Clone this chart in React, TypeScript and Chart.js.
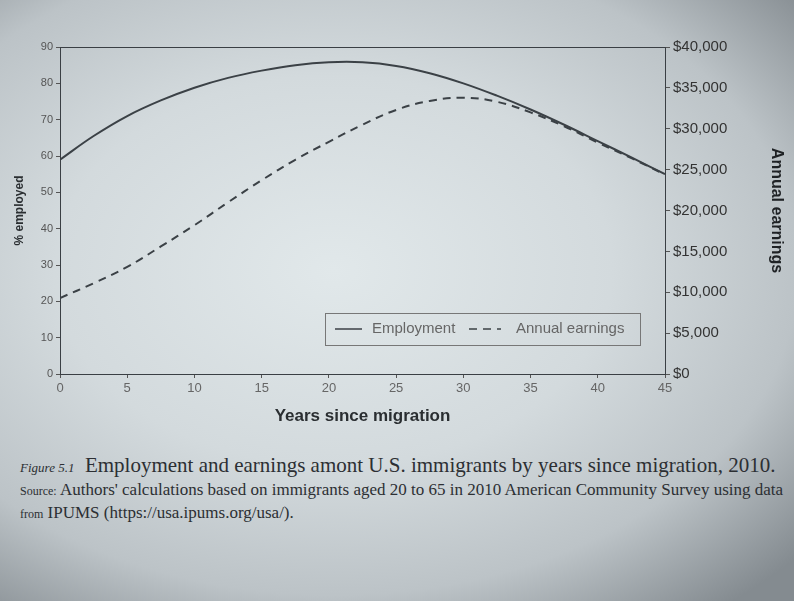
import React, { useEffect, useRef } from "react";
import { Chart, registerables } from "chart.js";

Chart.register(...registerables);

const years = [0, 2.5, 5, 7.5, 10, 12.5, 15, 17.5, 20, 22.5, 25, 27.5, 30, 32.5, 35, 37.5, 40, 42.5, 45];
const employment = [59, 65.5, 71, 75.3, 78.8, 81.5, 83.5, 85, 85.8, 85.8, 84.8, 82.8, 80, 76.6, 72.8, 68.6, 64.1, 59.6, 55];
const earnings = [9300, 11100, 13100, 15600, 18200, 21000, 23700, 26200, 28400, 30500, 32300, 33400, 33800, 33300, 32000, 30300, 28300, 26400, 24400];
const xTicks = [0, 5, 10, 15, 20, 25, 30, 35, 40, 45];
const leftTicks = [0, 10, 20, 30, 40, 50, 60, 70, 80, 90];
const rightTicks = [0, 5000, 10000, 15000, 20000, 25000, 30000, 35000, 40000];

const LINE = "#3b4146";
const SANS = "'Liberation Sans', Arial, sans-serif";

const boxLegend = {
  id: "boxLegend",
  afterDraw(chart: any) {
    const { ctx, chartArea } = chart;
    const { left, right, top, bottom } = chartArea;
    ctx.save();
    ctx.strokeStyle = "#3a3f44";
    ctx.lineWidth = 1;
    ctx.strokeRect(left + 0.5, top + 0.5, right - left, bottom - top);
    const bx = right - 340, by = bottom - 61, bw = 315, bh = 32;
    ctx.strokeStyle = "#777";
    ctx.lineWidth = 1;
    ctx.strokeRect(bx + 0.5, by + 0.5, bw, bh);
    const ds = chart.data.datasets;
    ctx.font = "15px " + SANS;
    ctx.fillStyle = "#666";
    ctx.textBaseline = "middle";
    const cy = by + bh / 2;
    ctx.strokeStyle = LINE;
    ctx.lineWidth = 1.5;
    ctx.setLineDash([]);
    ctx.beginPath();
    ctx.moveTo(bx + 10, cy);
    ctx.lineTo(bx + 37, cy);
    ctx.stroke();
    ctx.fillText(ds[0].label, bx + 47, cy);
    ctx.setLineDash([8, 6]);
    ctx.beginPath();
    ctx.moveTo(bx + 144, cy);
    ctx.lineTo(bx + 176, cy);
    ctx.stroke();
    ctx.setLineDash([]);
    ctx.fillText(ds[1].label, bx + 191, cy);
    ctx.restore();
  },
};

export default function App() {
  const ref = useRef<HTMLCanvasElement>(null);
  useEffect(() => {
    const chart = new Chart(ref.current!, {
      type: "line",
      data: {
        labels: years,
        datasets: [
          {
            label: "Employment",
            data: years.map((x, i) => ({ x, y: employment[i] })),
            borderColor: LINE,
            borderWidth: 2,
            pointRadius: 0,
            tension: 0.4,
            yAxisID: "y",
          },
          {
            label: "Annual earnings",
            data: years.map((x, i) => ({ x, y: earnings[i] })),
            borderColor: LINE,
            borderWidth: 2,
            borderDash: [8, 6],
            pointRadius: 0,
            tension: 0.4,
            yAxisID: "y1",
          },
        ],
      },
      options: {
        animation: false,
        responsive: false,
        layout: { padding: { top: 47, left: 8, right: 6, bottom: 9 } },
        plugins: { legend: { display: false }, tooltip: { enabled: false } },
        scales: {
          x: {
            type: "linear",
            min: 0,
            max: 45,
            afterBuildTicks: (s: any) => { s.ticks = xTicks.map((v) => ({ value: v })); },
            afterFit: (s: any) => { s.height = 57; },
            grid: { drawOnChartArea: false, tickLength: 4, color: "#555" },
            border: { color: "#3a3f44" },
            ticks: { color: "#666", font: { size: 13, family: SANS }, padding: 3 },
            title: { display: true, text: "Years since migration", color: "#2a2e31", font: { size: 17, weight: "bold", family: SANS }, padding: { top: 4 } },
          },
          y: {
            position: "left",
            min: 0,
            max: 90,
            afterBuildTicks: (s: any) => { s.ticks = leftTicks.map((v) => ({ value: v })); },
            afterFit: (s: any) => { s.width = 52; },
            grid: { drawOnChartArea: false, tickLength: 4, color: "#555" },
            border: { color: "#3a3f44" },
            ticks: { color: "#555", font: { size: 11, family: SANS }, padding: 3 },
            title: { display: true, text: "% employed", color: "#2a2e31", font: { size: 12, weight: "bold", family: SANS }, padding: 4 },
          },
          y1: {
            position: "right",
            min: 0,
            max: 40000,
            afterBuildTicks: (s: any) => { s.ticks = rightTicks.map((v) => ({ value: v })); },
            afterFit: (s: any) => { s.width = 123; },
            grid: { drawOnChartArea: false, tickLength: 5, color: "#555" },
            border: { color: "#3a3f44" },
            ticks: {
              color: "#333",
              font: { size: 15, family: SANS },
              padding: 3,
              callback: (v: any) => "$" + Number(v).toLocaleString("en-US"),
            },
            title: { display: true, text: "Annual earnings", color: "#1f2225", font: { size: 16, weight: "bold", family: SANS }, padding: 2 },
          },
        },
      },
      plugins: [boxLegend],
    } as any);
    return () => chart.destroy();
  }, []);

  return (
    <div
      style={{
        position: "absolute",
        left: 0,
        top: 0,
        width: 794,
        height: 601,
        overflow: "hidden",
        background:
          "radial-gradient(ellipse 78% 72% at 42% 45%, #e1e8ea 0%, #d3dadd 45%, #bcc3c7 75%, #848b90 100%)",
      }}
    >
      <canvas ref={ref} width={794} height={440} style={{ position: "absolute", left: 0, top: 0 }} />
      <div
        style={{
          position: "absolute",
          left: 20,
          top: 453,
          width: 770,
          fontFamily: "'Liberation Serif', 'DejaVu Serif', serif",
          color: "#2c2f33",
          whiteSpace: "nowrap",
        }}
      >
        <div style={{ fontSize: 21 }}>
          <span style={{ fontStyle: "italic", fontSize: 13 }}>Figure 5.1</span>&nbsp; Employment and earnings amont U.S. immigrants by years since migration, 2010.
        </div>
        <div style={{ fontSize: 17, marginTop: 1, lineHeight: "21px" }}>
          <span style={{ fontSize: 12 }}>Source:</span> Authors' calculations based on immigrants aged 20 to 65 in 2010 American Community Survey using data
          <br />
          <span style={{ fontSize: 12 }}>from</span> IPUMS (https://usa.ipums.org/usa/).
        </div>
      </div>
    </div>
  );
}
